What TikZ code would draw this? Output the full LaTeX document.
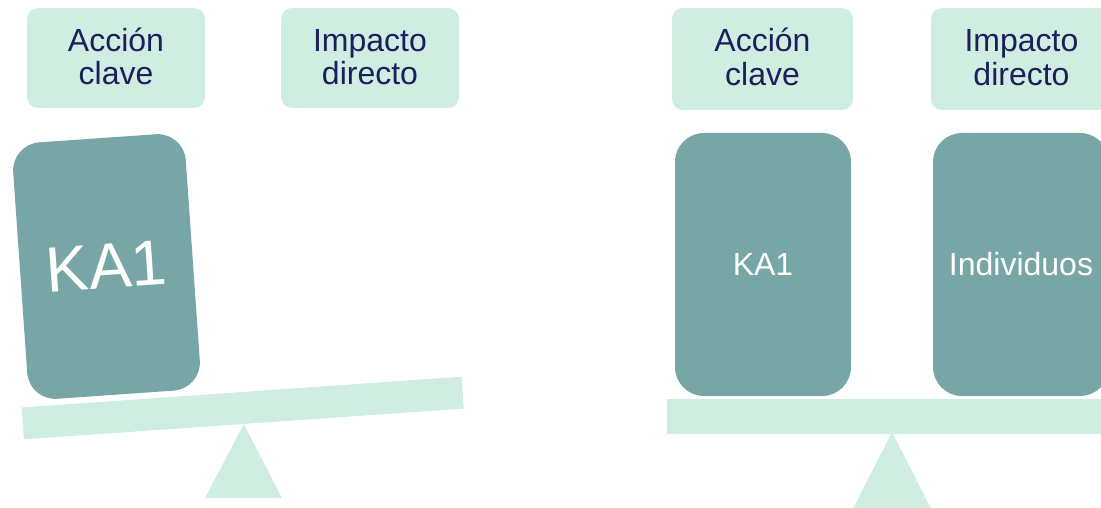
\documentclass[tikz,border=0pt]{standalone}
\usepackage{fontspec}
\setmainfont{Liberation Sans}
\definecolor{mintfill}{HTML}{D0EDE2}
\definecolor{weightfill}{HTML}{78A6A6}
\definecolor{navytext}{HTML}{1E1E5C}
\begin{document}
\begin{tikzpicture}[x=1pt,y=-1pt,
  labelbox/.style={fill=mintfill, rounded corners=11pt, minimum width=178pt, minimum height=100pt,
    inner sep=0pt, align=center, text=navytext, font=\fontsize{32}{33}\selectfont,
    text height=57pt, text depth=3pt},
  weightbox/.style={fill=weightfill, rounded corners=29pt, minimum width=176pt, minimum height=263pt,
    inner sep=0pt, text=white, font=\fontsize{32}{33}\selectfont},
  beambar/.style={fill=mintfill, inner sep=0pt, minimum height=32pt}
]
\useasboundingbox (0,0) rectangle (1101,508);
\clip (0,0) rectangle (1101,508);

% ---------- left: tilted balance ----------
\node[labelbox] (accL) at (116,58) {Acción\\clave};
\node[labelbox] (impL) at (370,58) {Impacto\\directo};
\node[beambar, rotate=4, minimum width=441pt] (beamL) at (242.75,408) {};
\fill[mintfill] (beamL.south) -- (282,498) -- (205,498) -- cycle;
\node[weightbox, rotate=4, minimum width=173pt, minimum height=257pt, rounded corners=28pt,
  font=\fontsize{64}{66}\selectfont] (kaL) at (106.5,266.5) {KA1};

% ---------- right: level balance ----------
\node[labelbox, minimum width=181pt, minimum height=102pt, font=\fontsize{32}{34}\selectfont,
  text height=58pt, text depth=4pt] (accR) at (762.5,59) {Acción\\clave};
\node[labelbox, minimum width=181pt, minimum height=102pt, font=\fontsize{32}{34}\selectfont,
  text height=58pt, text depth=4pt] (impR) at (1021.5,59) {Impacto\\directo};
\node[weightbox] (kaR) at (763,264.5) {KA1};
\node[weightbox] (indR) at (1021,264.5) {Individuos};
\node[beambar, minimum width=450pt, minimum height=35pt, anchor=north west] (beamR) at (667,399) {};
\fill[mintfill] (892,432) -- (932,511) -- (852,511) -- cycle;
\end{tikzpicture}
\end{document}
